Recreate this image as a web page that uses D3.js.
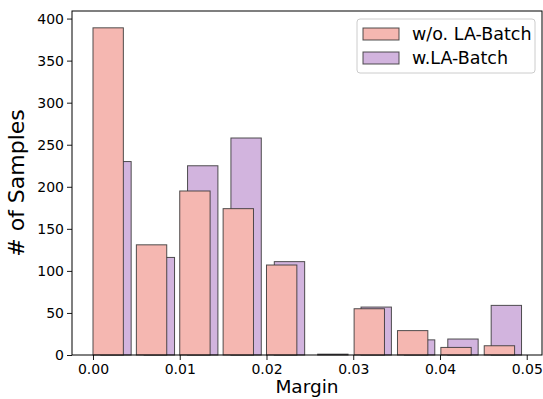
<!DOCTYPE html>
<html>
<head>
<meta charset="utf-8">
<script src="https://cdn.jsdelivr.net/npm/d3@7"></script>
<style>
  body { margin: 0; background: #fff; }
  svg text { font-family: "DejaVu Sans", sans-serif; fill: #000; }
</style>
</head>
<body>
<svg id="chart" width="543" height="399"></svg>
<script>
// bin left edges (Margin) and counts
const wo_left = [0.0000, 0.0050, 0.0100, 0.0150, 0.0200, 0.0250, 0.0301, 0.0351, 0.0401, 0.0451];
const wo_counts = [389, 131, 195, 174, 107, 0, 55, 29, 9, 11];
const w_left = [0.0009, 0.0059, 0.0109, 0.0159, 0.0209, 0.0259, 0.0309, 0.0359, 0.0409, 0.0459];
const w_counts = [230, 116, 225, 258, 111, 1, 57, 18, 19, 59];
const bar_width = 0.0035;
const x_ticks = [0.00, 0.01, 0.02, 0.03, 0.04, 0.05];
const y_ticks = [0, 50, 100, 150, 200, 250, 300, 350, 400];
const series_names = ["w/o. LA-Batch", "w.LA-Batch"];
const series_colors = ["#F5B7B1", "#D2B4DE"];

let svg = d3.select("#chart"),
  margin = {top: 11, right: 1, bottom: 44, left: 72},
  width = svg.attr("width") - margin.left - margin.right,
  height = svg.attr("height") - margin.top - margin.bottom;

let x = d3.scaleLinear().domain([-0.00242, 0.05176]).range([0, width]);
let y = d3.scaleLinear().domain([0, 409]).range([height, 0]);

let g = svg.append("g")
           .attr("transform", "translate(" + margin.left + "," + margin.top + ")");

function drawBars(lefts, counts, color){
  let data = lefts.map((l, i) => ({left: l, count: counts[i]}));
  g.append("g").selectAll("rect")
   .data(data)
   .enter().append("rect")
   .attr("x", d => x(d.left))
   .attr("y", d => y(d.count))
   .attr("width", d => x(d.left + bar_width) - x(d.left))
   .attr("height", d => y(0) - y(d.count))
   .attr("fill", color)
   .attr("stroke", "#333")
   .attr("stroke-opacity", 0.85)
   .attr("stroke-width", 1);
}
// purple behind, pink in front
drawBars(w_left, w_counts, series_colors[1]);
drawBars(wo_left, wo_counts, series_colors[0]);

// axes
let xAxis = g.append("g")
   .attr("transform", "translate(0," + height + ")")
   .call(d3.axisBottom(x).tickValues(x_ticks).tickFormat(d3.format(".2f")).tickSize(5).tickPadding(4));
let yAxis = g.append("g")
   .call(d3.axisLeft(y).tickValues(y_ticks).tickSize(5).tickPadding(3));
[xAxis, yAxis].forEach(a => {
  a.select(".domain").remove();
  a.selectAll("text").style("font-size", "14px").style("font-family", "DejaVu Sans");
  a.selectAll("line").attr("stroke", "#000").attr("stroke-width", 0.9);
});

// frame
g.append("rect")
 .attr("width", width).attr("height", height)
 .attr("fill", "none").attr("stroke", "#000").attr("stroke-width", 1);

// labels
svg.append("text")
   .attr("x", margin.left + width / 2)
   .attr("y", 393)
   .attr("text-anchor", "middle")
   .style("font-size", "18.5px")
   .text("Margin");
svg.append("text")
   .attr("transform", "translate(24," + (margin.top + height / 2) + ") rotate(-90)")
   .attr("text-anchor", "middle")
   .style("font-size", "22px")
   .text("# of Samples");

// legend
let legend = svg.append("g").attr("transform", "translate(357,19)");
legend.append("rect")
      .attr("width", 178).attr("height", 54)
      .attr("rx", 3)
      .attr("fill", "#fff").attr("fill-opacity", 0.8)
      .attr("stroke", "#ccc").attr("stroke-width", 1);
let item = legend.selectAll(".item")
      .data(series_names)
      .enter().append("g")
      .attr("class", "item")
      .attr("transform", (d, i) => "translate(6," + (9 + i * 24) + ")");
item.append("rect")
    .attr("width", 36).attr("height", 12)
    .attr("fill", (d, i) => series_colors[i])
    .attr("stroke", "#333").attr("stroke-opacity", 0.85);
item.append("text")
    .attr("x", 49).attr("y", 6)
    .attr("dy", "0.35em")
    .style("font-size", "17.5px")
    .text(d => d);
</script>
</body>
</html>
